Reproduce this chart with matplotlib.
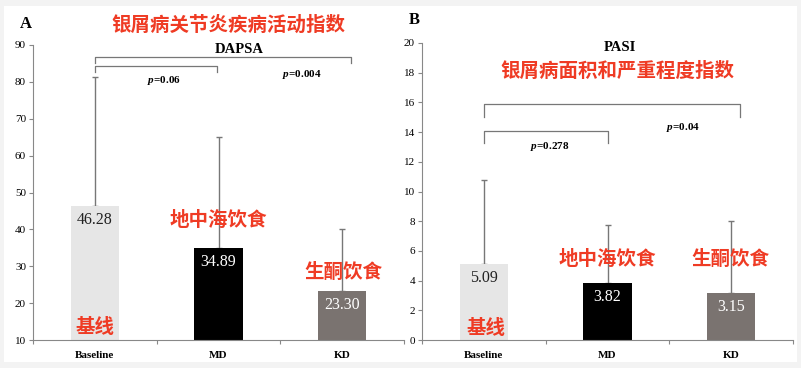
import matplotlib
matplotlib.use("Agg")
import matplotlib.pyplot as plt
from matplotlib.patches import Rectangle

plt.rcParams['font.family'] = ['Liberation Serif', 'DejaVu Serif']
plt.rcParams['mathtext.fontset'] = 'custom'
plt.rcParams['mathtext.it'] = 'Liberation Serif:italic:bold'
plt.rcParams['mathtext.rm'] = 'Liberation Serif:bold'

# data
groups = ['Baseline', 'MD', 'KD']
dapsa_mean = [46.28, 34.89, 23.30]
dapsa_sd = [35.0, 30.2, 16.7]
pasi_mean = [5.09, 3.82, 3.15]
pasi_sd = [5.71, 3.94, 4.85]
dapsa_p = ['$p$=0.06', '$p$=0.004']
pasi_p = ['$p$=0.278', '$p$=0.04']
cn_groups = ['基线', '地中海饮食', '生酮饮食']

bar_colors = ['#e6e6e6', '#000000', '#7a7370']
label_colors = ['#222222', 'white', 'white']
red = '#ef3b24'
cjk = 'Noto Sans CJK SC'
cjk_w = 'heavy'

fig = plt.figure(figsize=(8.01, 3.68), dpi=100, facecolor='#f3f3f3')
fig.patches.append(Rectangle((4/801, 6/368), 793/801, 356/368, transform=fig.transFigure,
                             facecolor='white', edgecolor='none', zorder=-10))

axA = fig.add_axes([33/801, 28/368, 371/801, 295/368])
axB = fig.add_axes([422/801, 28/368, 371/801, 297/368])


def draw_panel(ax, means, sds, ylim, yticks):
    x = range(len(groups))
    ax.set_facecolor('none')
    ax.errorbar(x, means, yerr=[[0]*len(sds), sds], fmt='none', ecolor='#777777',
                elinewidth=1, capsize=2.5, capthick=1, zorder=1)
    bars = ax.bar(x, means, width=0.39, color=bar_colors, zorder=2)
    for b, m, c in zip(bars, means, label_colors):
        ax.annotate('%.2f' % m, (b.get_x() + b.get_width()/2, m), xytext=(0, -10),
                    textcoords='offset points', ha='center', va='center',
                    fontsize=11.5, color=c, zorder=3)
    ax.set_xlim(-0.5, 2.5)
    ax.set_ylim(*ylim)
    ax.set_yticks(yticks)
    ax.set_xticks([-0.5, 0.5, 1.5, 2.5])
    ax.set_xticklabels([])
    ax.set_xticks([0, 1, 2], minor=True)
    ax.set_xticklabels(groups, minor=True, fontweight='bold', fontsize=8)
    ax.tick_params(axis='x', which='minor', length=0, pad=8)
    ax.tick_params(axis='x', which='major', length=3, color='#888888')
    ax.tick_params(axis='y', labelsize=8, length=3, color='#888888', pad=2)
    for s in ['top', 'right']:
        ax.spines[s].set_visible(False)
    for s in ['left', 'bottom']:
        ax.spines[s].set_color('#888888')


def bracket(ax, x0, x1, ytop, ybot):
    ax.plot([x0, x0, x1, x1], [ybot, ytop, ytop, ybot], color='#777777', lw=0.9,
            clip_on=False, zorder=4)


draw_panel(axA, dapsa_mean, dapsa_sd, (10, 90), range(10, 91, 10))
draw_panel(axB, pasi_mean, pasi_sd, (0, 20), range(0, 21, 2))

# panel A annotations
bracket(axA, 0.0, 2.07, 86.7, 85.1)
bracket(axA, 0.0, 0.99, 84.3, 82.8)
axA.text(0.56, 80.5, dapsa_p[0], ha='center', va='center', fontsize=8, fontweight='bold')
axA.text(1.67, 82.1, dapsa_p[1], ha='center', va='center', fontsize=8, fontweight='bold')
axA.text(1.17, 88.7, 'DAPSA', ha='center', va='center', fontsize=10.5, fontweight='bold')
fig.text(26/801, 1 - 24/368, 'A', ha='center', va='center', fontsize=12, fontweight='bold')
fig.text(228/801, 1 - 25/368, '银屑病关节炎疾病活动指数', ha='center', va='center',
         fontsize=14, fontweight=cjk_w, color=red, family=cjk)
axA.text(0, 13.5, cn_groups[0], ha='center', va='center', fontsize=14,
         fontweight=cjk_w, color=red, family=cjk, zorder=5)
axA.text(1, 42.5, cn_groups[1], ha='center', va='center', fontsize=14,
         fontweight=cjk_w, color=red, family=cjk, zorder=5)
axA.text(2.01, 28.2, cn_groups[2], ha='center', va='center', fontsize=14,
         fontweight=cjk_w, color=red, family=cjk, zorder=5)

# panel B annotations
bracket(axB, 0.0, 2.07, 15.9, 15.03)
bracket(axB, 0.0, 1.0, 14.09, 13.28)
axB.text(0.53, 13.0, pasi_p[0], ha='center', va='center', fontsize=8, fontweight='bold')
axB.text(1.61, 14.3, pasi_p[1], ha='center', va='center', fontsize=8, fontweight='bold')
axB.text(1.1, 19.7, 'PASI', ha='center', va='center', fontsize=10.5, fontweight='bold')
fig.text(414/801, 1 - 20/368, 'B', ha='center', va='center', fontsize=12, fontweight='bold')
axB.text(1.08, 18.07, '银屑病面积和严重程度指数', ha='center', va='center',
         fontsize=14, fontweight=cjk_w, color=red, family=cjk)
axB.text(0.02, 0.8, cn_groups[0], ha='center', va='center', fontsize=14,
         fontweight=cjk_w, color=red, family=cjk, zorder=5)
axB.text(1.0, 5.39, cn_groups[1], ha='center', va='center', fontsize=14,
         fontweight=cjk_w, color=red, family=cjk, zorder=5)
axB.text(1.99, 5.39, cn_groups[2], ha='center', va='center', fontsize=14,
         fontweight=cjk_w, color=red, family=cjk, zorder=5)

fig.savefig('out.png', dpi=100, facecolor=fig.get_facecolor())
